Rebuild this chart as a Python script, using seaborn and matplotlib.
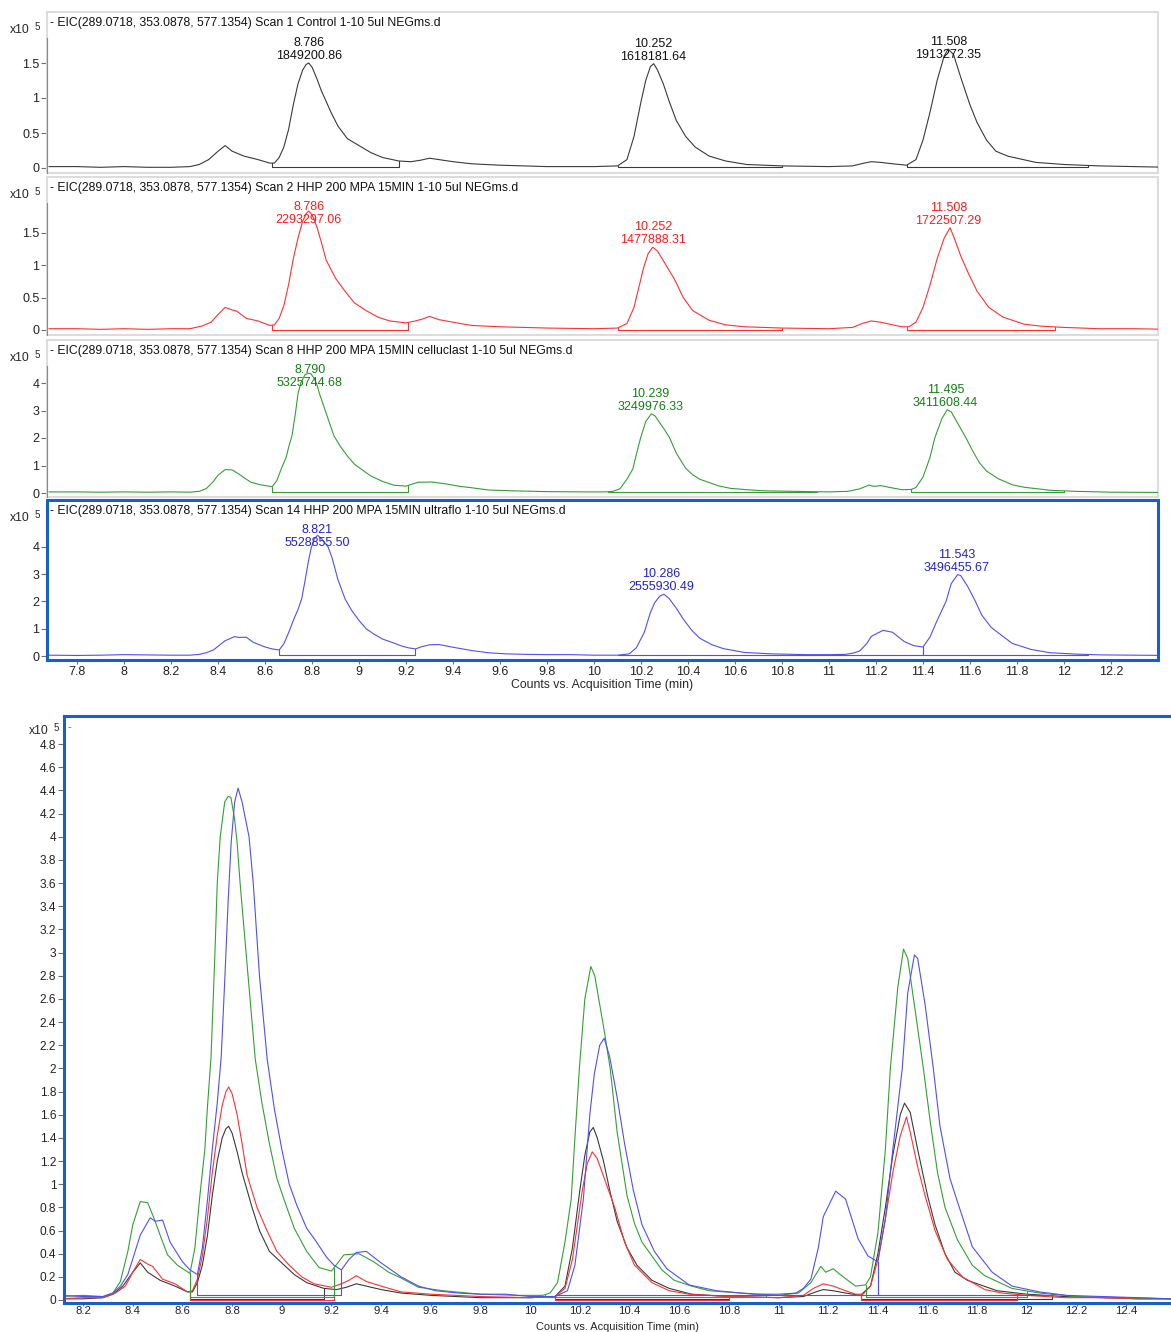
import numpy as np
import pandas as pd
import matplotlib
matplotlib.use('Agg')
import matplotlib.pyplot as plt
from matplotlib.patches import Rectangle
from matplotlib.ticker import FormatStrFormatter
import seaborn as sns

# EIC traces: (acquisition time in min, counts x10^5)
control = [(7.68, 0.02), (7.8, 0.02), (7.9, 0.01), (8.0, 0.02), (8.1, 0.01), (8.2, 0.01), (8.28, 0.02),
           (8.32, 0.05), (8.36, 0.12), (8.40, 0.24), (8.43, 0.32), (8.46, 0.24), (8.51, 0.17), (8.57, 0.12),
           (8.62, 0.07), (8.64, 0.07), (8.66, 0.15), (8.68, 0.3), (8.70, 0.55), (8.72, 0.9), (8.74, 1.2),
           (8.76, 1.4), (8.775, 1.48), (8.786, 1.50), (8.80, 1.44), (8.82, 1.28), (8.84, 1.1), (8.86, 0.95),
           (8.88, 0.8), (8.91, 0.6), (8.95, 0.42), (9.0, 0.32), (9.05, 0.22), (9.1, 0.15), (9.17, 0.10),
           (9.22, 0.09), (9.26, 0.11), (9.30, 0.14), (9.34, 0.12), (9.4, 0.09), (9.48, 0.06), (9.6, 0.04),
           (9.8, 0.02), (10.0, 0.02), (10.1, 0.03), (10.14, 0.12), (10.17, 0.45), (10.2, 0.95), (10.22, 1.25),
           (10.24, 1.45), (10.254, 1.49), (10.27, 1.40), (10.295, 1.2), (10.32, 0.95), (10.35, 0.68),
           (10.39, 0.45), (10.43, 0.3), (10.49, 0.17), (10.56, 0.1), (10.65, 0.05), (10.8, 0.03), (11.0, 0.02),
           (11.1, 0.03), (11.15, 0.07), (11.18, 0.09), (11.22, 0.08), (11.27, 0.06), (11.33, 0.04),
           (11.37, 0.12), (11.40, 0.4), (11.43, 0.8), (11.46, 1.25), (11.49, 1.6), (11.507, 1.70),
           (11.53, 1.62), (11.56, 1.3), (11.6, 0.9), (11.63, 0.65), (11.67, 0.4), (11.71, 0.24), (11.76, 0.17),
           (11.8, 0.14), (11.88, 0.08), (12.0, 0.05), (12.15, 0.03), (12.3, 0.02), (12.45, 0.01), (12.58, 0.01)]

hhp = [(7.68, 0.02), (7.8, 0.02), (7.9, 0.01), (8.0, 0.02), (8.1, 0.01), (8.2, 0.02), (8.28, 0.02),
       (8.33, 0.06), (8.37, 0.12), (8.40, 0.24), (8.43, 0.35), (8.46, 0.31), (8.48, 0.29), (8.52, 0.18),
       (8.57, 0.14), (8.62, 0.07), (8.64, 0.08), (8.66, 0.18), (8.68, 0.38), (8.70, 0.7), (8.72, 1.1),
       (8.74, 1.42), (8.76, 1.68), (8.775, 1.8), (8.786, 1.84), (8.80, 1.78), (8.82, 1.6), (8.84, 1.35),
       (8.86, 1.08), (8.90, 0.8), (8.94, 0.6), (8.98, 0.42), (9.03, 0.3), (9.08, 0.2), (9.13, 0.14),
       (9.2, 0.11), (9.24, 0.14), (9.27, 0.17), (9.30, 0.21), (9.34, 0.16), (9.4, 0.12), (9.48, 0.07),
       (9.6, 0.05), (9.8, 0.03), (10.0, 0.02), (10.1, 0.03), (10.14, 0.1), (10.17, 0.35), (10.21, 0.95),
       (10.23, 1.18), (10.25, 1.28), (10.27, 1.22), (10.29, 1.1), (10.31, 0.98), (10.34, 0.8), (10.38, 0.5),
       (10.42, 0.3), (10.49, 0.15), (10.56, 0.08), (10.64, 0.05), (10.8, 0.03), (11.0, 0.02), (11.1, 0.04),
       (11.14, 0.1), (11.18, 0.14), (11.22, 0.12), (11.27, 0.08), (11.31, 0.05), (11.34, 0.05),
       (11.37, 0.12), (11.40, 0.35), (11.43, 0.7), (11.46, 1.1), (11.49, 1.42), (11.515, 1.58),
       (11.53, 1.45), (11.56, 1.15), (11.59, 0.9), (11.63, 0.6), (11.68, 0.35), (11.74, 0.2), (11.83, 0.09),
       (11.9, 0.06), (12.0, 0.04), (12.15, 0.02), (12.3, 0.02), (12.45, 0.01), (12.58, 0.01)]

celluclast = [(7.68, 0.04), (7.8, 0.04), (7.9, 0.03), (8.0, 0.04), (8.1, 0.03), (8.2, 0.04), (8.28, 0.03),
              (8.32, 0.06), (8.35, 0.16), (8.38, 0.42), (8.40, 0.65), (8.43, 0.85), (8.46, 0.84), (8.49, 0.68),
              (8.51, 0.56), (8.54, 0.39), (8.58, 0.3), (8.63, 0.23), (8.65, 0.45), (8.67, 0.9), (8.69, 1.3),
              (8.70, 1.65), (8.715, 2.1), (8.73, 2.95), (8.74, 3.6), (8.752, 4.0), (8.77, 4.3), (8.784, 4.35),
              (8.795, 4.34), (8.81, 4.15), (8.82, 3.95), (8.832, 3.6), (8.86, 2.9), (8.893, 2.08), (8.92, 1.7),
              (8.95, 1.35), (8.98, 1.05), (9.02, 0.8), (9.05, 0.62), (9.1, 0.42), (9.15, 0.28), (9.2, 0.25),
              (9.25, 0.39), (9.31, 0.4), (9.37, 0.33), (9.43, 0.24), (9.48, 0.19), (9.55, 0.11), (9.65, 0.08),
              (9.8, 0.05), (9.95, 0.04), (10.05, 0.04), (10.08, 0.06), (10.11, 0.15), (10.14, 0.5),
              (10.165, 0.87), (10.18, 1.4), (10.198, 2.0), (10.22, 2.6), (10.244, 2.88), (10.26, 2.8),
              (10.28, 2.55), (10.3, 2.3), (10.322, 2.0), (10.35, 1.45), (10.39, 0.9), (10.42, 0.66),
              (10.45, 0.5), (10.49, 0.38), (10.53, 0.26), (10.58, 0.17), (10.65, 0.12), (10.72, 0.08),
              (10.85, 0.06), (11.0, 0.04), (11.08, 0.06), (11.13, 0.15), (11.17, 0.29), (11.19, 0.24),
              (11.22, 0.27), (11.26, 0.2), (11.31, 0.12), (11.35, 0.13), (11.37, 0.2), (11.4, 0.58),
              (11.43, 1.3), (11.45, 2.0), (11.48, 2.7), (11.503, 3.03), (11.52, 2.95), (11.55, 2.5),
              (11.583, 2.0), (11.61, 1.55), (11.64, 1.1), (11.67, 0.8), (11.72, 0.52), (11.78, 0.3),
              (11.83, 0.21), (11.94, 0.1), (12.05, 0.06), (12.2, 0.03), (12.4, 0.02), (12.58, 0.01)]

ultraflo = [(7.68, 0.03), (7.8, 0.02), (7.9, 0.03), (8.0, 0.05), (8.1, 0.04), (8.2, 0.03), (8.28, 0.03),
            (8.32, 0.06), (8.35, 0.12), (8.38, 0.22), (8.43, 0.56), (8.47, 0.71), (8.49, 0.68), (8.52, 0.69),
            (8.55, 0.5), (8.6, 0.33), (8.63, 0.26), (8.66, 0.22), (8.68, 0.45), (8.70, 0.85), (8.72, 1.3),
            (8.74, 1.7), (8.756, 2.1), (8.77, 2.75), (8.784, 3.45), (8.796, 3.95), (8.81, 4.3), (8.824, 4.42),
            (8.84, 4.3), (8.868, 4.0), (8.885, 3.6), (8.91, 2.8), (8.941, 2.08), (8.97, 1.65), (9.0, 1.3),
            (9.03, 1.0), (9.06, 0.82), (9.1, 0.62), (9.14, 0.5), (9.18, 0.37), (9.21, 0.3), (9.24, 0.26),
            (9.27, 0.35), (9.30, 0.41), (9.34, 0.42), (9.37, 0.37), (9.4, 0.32), (9.44, 0.26), (9.48, 0.2),
            (9.55, 0.12), (9.62, 0.08), (9.71, 0.06), (9.8, 0.05), (9.9, 0.05), (10.0, 0.03), (10.1, 0.03),
            (10.15, 0.08), (10.18, 0.3), (10.214, 0.87), (10.24, 1.6), (10.258, 1.95), (10.28, 2.2),
            (10.298, 2.26), (10.32, 2.1), (10.35, 1.75), (10.38, 1.35), (10.415, 0.95), (10.45, 0.65),
            (10.5, 0.42), (10.55, 0.27), (10.64, 0.13), (10.75, 0.08), (10.9, 0.05), (11.0, 0.05),
            (11.07, 0.06), (11.1, 0.1), (11.13, 0.18), (11.16, 0.45), (11.18, 0.72), (11.23, 0.94),
            (11.27, 0.87), (11.32, 0.53), (11.36, 0.38), (11.4, 0.33), (11.43, 0.7), (11.46, 1.3),
            (11.498, 2.0), (11.52, 2.65), (11.547, 2.98), (11.56, 2.95), (11.59, 2.55), (11.623, 2.0),
            (11.65, 1.5), (11.69, 1.05), (11.72, 0.85), (11.78, 0.46), (11.86, 0.24), (11.94, 0.12),
            (12.05, 0.07), (12.16, 0.04), (12.3, 0.03), (12.45, 0.02), (12.58, 0.01)]

# integration windows (start, end) in min
control_windows = [(8.63, 9.17), (10.10, 10.80), (11.33, 12.10)]
hhp_windows = [(8.63, 9.21), (10.10, 10.80), (11.33, 11.96)]
celluclast_windows = [(8.63, 9.21), (10.06, 10.95), (11.35, 12.00)]
ultraflo_windows = [(8.66, 9.24), (10.10, 11.40), (11.40, 12.10)]
baseline_levels = [0.01, 0.0, 0.03, 0.04]

# labelled peaks: retention time, area
control_peaks = [(8.786, '1849200.86'), (10.252, '1618181.64'), (11.508, '1913272.35')]
hhp_peaks = [(8.786, '2293297.06'), (10.252, '1477888.31'), (11.508, '1722507.29')]
celluclast_peaks = [(8.790, '5325744.68'), (10.239, '3249976.33'), (11.495, '3411608.44')]
ultraflo_peaks = [(8.821, '5528855.50'), (10.286, '2555930.49'), (11.543, '3496455.67')]

eic_name = 'EIC(289.0718, 353.0878, 577.1354)'
scan_names = ['Scan 1 Control 1-10 5ul NEGms.d',
              'Scan 2 HHP 200 MPA 15MIN 1-10 5ul NEGms.d',
              'Scan 8 HHP 200 MPA 15MIN celluclast 1-10 5ul NEGms.d',
              'Scan 14 HHP 200 MPA 15MIN ultraflo 1-10 5ul NEGms.d']
top_yticks = [[0, 0.5, 1, 1.5], [0, 0.5, 1, 1.5], [0, 1, 2, 3, 4], [0, 1, 2, 3, 4]]

traces = [control, hhp, celluclast, ultraflo]
windows = [control_windows, hhp_windows, celluclast_windows, ultraflo_windows]
peaks = [control_peaks, hhp_peaks, celluclast_peaks, ultraflo_peaks]

line_colors = ['#3a3a3a', '#ff3030', '#33a033', '#5050f0']
text_colors = ['#111111', '#ff1a1a', '#128012', '#2222cc']
frame_blue = '#1a5fc8'

sns.set_style('white')
plt.rcParams['font.family'] = ['Liberation Sans', 'DejaVu Sans']

W, H = 1171, 1332
fig = plt.figure(figsize=(W / 100, H / 100), dpi=100)


def add_panel(left, top, right, bottom):
    return fig.add_axes([left / W, 1 - bottom / H, (right - left) / W, (bottom - top) / H])


def draw_trace(ax, i):
    df = pd.DataFrame(traces[i], columns=['time', 'counts'])
    sns.lineplot(data=df, x='time', y='counts', ax=ax, color=line_colors[i], lw=0.8,
                 estimator=None, sort=False)
    t, v = df['time'].values, df['counts'].values
    base = baseline_levels[i]
    for s, e in windows[i]:
        ax.plot([s, s, e, e], [np.interp(s, t, v), base, base, np.interp(e, t, v)],
                color=line_colors[i], lw=0.8)
    return df


# (left, top, right, bottom, zero line, px per 1e5) in figure pixels
panel_boxes = [(47, 12, 1158, 173, 168, 70.0),
               (47, 177, 1158, 335, 330, 64.7),
               (47, 340, 1158, 497, 493, 27.5),
               (47, 500, 1158, 660, 656, 27.3)]

for i, (l, t_, r, b, z, ppu) in enumerate(panel_boxes):
    ax = add_panel(l, t_, r, b)
    df = draw_trace(ax, i)
    ax.set_xlim(7.672, 12.40)
    ax.set_ylim(-(b - z) / ppu, (z - t_) / ppu)
    ax.set_xlabel('')
    ax.set_ylabel('')
    ax.set_yticks(top_yticks[i])
    ax.yaxis.set_major_formatter(FormatStrFormatter('%g'))
    ax.tick_params(axis='y', direction='out', length=4, width=0.8, color='#707070',
                   labelsize=9, labelcolor='#222222', pad=1.5, left=True)
    for sp in ['top', 'right', 'bottom']:
        ax.spines[sp].set_visible(False)
    if i < 3:
        ax.spines['left'].set_color('#8a8a8a')
        ax.spines['left'].set_linewidth(0.8)
        ax.spines['left'].set_bounds(ax.get_ylim()[0], (z - t_ - 26) / ppu)
        ax.add_patch(Rectangle((0, 0), 1, 1, transform=ax.transAxes, fill=False,
                               edgecolor='#dcdcdc', lw=1.5, clip_on=False))
        ax.set_xticks([])
    else:
        ax.spines['left'].set_visible(False)
        ax.add_patch(Rectangle((0, 0), 1, 1, transform=ax.transAxes, fill=False,
                               edgecolor=frame_blue, lw=2.2, clip_on=False, zorder=5))
        ax.set_xticks(np.round(np.arange(7.8, 12.21, 0.2), 1))
        ax.xaxis.set_major_formatter(FormatStrFormatter('%g'))
        ax.tick_params(axis='x', direction='out', length=3, width=0.8, color='#707070',
                       labelsize=9, labelcolor='#222222', pad=1.5, bottom=True)
        ax.set_xlabel('Counts vs. Acquisition Time (min)', fontsize=8.8, labelpad=0.5)

    # trace title and multiplier
    ax.annotate('- ' + eic_name + ' ' + scan_names[i], xy=(0, 1), xycoords='axes fraction',
                xytext=(3, -11), textcoords='offset pixels', ha='left', va='center',
                fontsize=8.8, color='#111111')
    fig.text(10 / W, 1 - (t_ + 18) / H, 'x10', fontsize=8.8, ha='left', va='center')
    fig.text(35 / W, 1 - (t_ + 15) / H, '5', fontsize=7, ha='left', va='center')

    # peak labels, placed just above the apex but kept under the title row
    tt, vv = df['time'].values, df['counts'].values
    cap = ax.transAxes.transform((0, 1))[1] - 49
    for rt, area in peaks[i]:
        apex = vv[np.abs(tt - rt) < 0.03].max()
        px, py = ax.transData.transform((rt, apex))
        ax.annotate('%.3f\n%s' % (rt, area), xy=(rt, apex), xytext=(px, min(py + 1, cap)),
                    textcoords='figure pixels', ha='center', va='bottom', fontsize=9,
                    color=text_colors[i], linespacing=1.1)

# overlay of all four traces
ov_top, ov_bottom, ov_zero, ov_ppu = 716, 1303, 1300, 115.8
ax = add_panel(64, ov_top, 1171, ov_bottom)
for i in range(4):
    draw_trace(ax, i)
ax.set_xlim(8.123, 12.58)
ax.set_ylim(-(ov_bottom - ov_zero) / ov_ppu, (ov_zero - ov_top) / ov_ppu)
ax.set_xlabel('')
ax.set_ylabel('')
ax.set_xticks(np.round(np.arange(8.2, 12.41, 0.2), 1))
ax.set_yticks(np.round(np.arange(0, 4.81, 0.2), 1))
ax.xaxis.set_major_formatter(FormatStrFormatter('%g'))
ax.yaxis.set_major_formatter(FormatStrFormatter('%g'))
ax.tick_params(direction='out', length=4, width=0.8, color='#707070', labelsize=8.6,
               labelcolor='#222222', pad=1.5, left=True, bottom=True)
ax.tick_params(axis='x', length=2, pad=0.5, labelsize=8.2)
ax.spines['right'].set_visible(False)
for sp in ['top', 'left', 'bottom']:
    ax.spines[sp].set_color(frame_blue)
    ax.spines[sp].set_linewidth(2.2)
fig.text(617 / W, 1 - 1332 / H, 'Counts vs. Acquisition Time (min)', fontsize=7.9,
         ha='center', va='bottom')
fig.text(29 / W, 1 - 731 / H, 'x10', fontsize=8.8, ha='left', va='center')
fig.text(54 / W, 1 - 728 / H, '5', fontsize=7, ha='left', va='center')
fig.text(68 / W, 1 - 727 / H, '-', fontsize=8, color=line_colors[3], ha='left', va='center')

fig.savefig('out.png', dpi=100)
